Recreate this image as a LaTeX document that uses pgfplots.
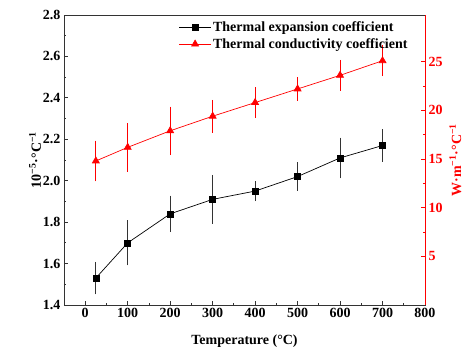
\documentclass[border=0pt]{standalone}
\usepackage{pgfplots}
\pgfplotsset{compat=1.18}
\usepackage{fontspec}
\setmainfont{Liberation Serif}
\newcommand{\lf}{\fontsize{14}{15.5}\selectfont\bfseries}
\begin{document}
\begin{tikzpicture}[font=\lf]
\useasboundingbox (-64pt,-46pt) rectangle (404pt,305pt);
\begin{axis}[
  at={(0,0)}, anchor=south west,
  scale only axis, width=361pt, height=290pt,
  xmin=-50, xmax=800, ymin=1.4, ymax=2.8,
  xtick={0,100,...,800}, minor x tick num=1,
  ytick={1.4,1.6,...,2.8}, minor y tick num=1,
  xtick pos=bottom, ytick pos=left, tick align=inside,
  major tick length=4pt, minor tick length=2.5pt,
  axis line style={line width=0.9pt, black!80},
  every tick/.style={line width=0.8pt, black!80},
  /pgf/number format/assume math mode=true,
  ticklabel style={font=\lf},
  yticklabel style={/pgf/number format/.cd, fixed, fixed zerofill, precision=1},
  xticklabel style={/pgf/number format/.cd, fixed},
  xlabel={Temperature (°C)},
  ylabel={10\textsuperscript{−5}·°C\textsuperscript{−1}},
  label style={font=\lf},
  xlabel style={yshift=-10pt},
  ylabel style={yshift=-5pt},
]
\addplot[black, line width=0.7pt, mark=square*, mark size=3pt,
  error bars/.cd, y dir=both, y explicit,
  error bar style={line width=0.9pt, black!80},
  error mark options={line width=0.9pt, mark size=3.8pt, black!80}]
coordinates {
 (25,1.53) +- (0,0.06)
 (100,1.70) +- (0,0.09)
 (200,1.84) +- (0,0.07)
 (300,1.91) +- (0,0.10)
 (400,1.95) +- (0,0.03)
 (500,2.02) +- (0,0.05)
 (600,2.11) +- (0,0.08)
 (700,2.17) +- (0,0.06)
};
\end{axis}
\begin{axis}[
  at={(0,0)}, anchor=south west,
  scale only axis, width=361pt, height=290pt,
  xmin=-50, xmax=800, ymin=0, ymax=29.8,
  axis x line=none, axis y line*=right,
  ytick={5,10,...,25}, minor y tick num=1,
  tick align=inside,
  major tick length=4pt, minor tick length=2.5pt,
  axis line style={line width=0.9pt, red, -},
  every tick/.style={line width=0.8pt, red},
  /pgf/number format/assume math mode=true,
  yticklabel style={font=\lf, red},
  ylabel={W·m\textsuperscript{−1}·°C\textsuperscript{−1}},
  ylabel style={font=\lf, red, yshift=0pt},
  legend style={draw=none, fill=none, at={(0.31,0.99)}, anchor=north west,
    font=\lf, nodes={font=\lf}, row sep=1pt,
    /tikz/every even column/.append style={column sep=2pt}},
  legend cell align=left,
  legend image code/.code={\draw[mark repeat=2,mark phase=2,#1] plot coordinates {(0cm,0cm) (0.55cm,0cm) (1.1cm,0cm)};},
]
\addlegendimage{black, line width=0.7pt, mark=square*, mark size=3pt}
\addlegendentry{Thermal expansion coefficient}
\addplot[red, line width=0.7pt, mark=triangle*, mark size=4pt,
  error bars/.cd, y dir=both, y explicit,
  error bar style={line width=0.9pt, red},
  error mark options={line width=0.9pt, mark size=3.8pt, red}]
coordinates {
 (25,14.8) +- (0,1.7)
 (100,16.2) +- (0,2.1)
 (200,17.9) +- (0,2.1)
 (300,19.4) +- (0,1.3)
 (400,20.8) +- (0,1.2)
 (500,22.2) +- (0,0.8)
 (600,23.6) +- (0,1.2)
 (700,25.1) +- (0,1.2)
};
\addlegendentry{Thermal conductivity coefficient}
\end{axis}
\end{tikzpicture}
\end{document}
